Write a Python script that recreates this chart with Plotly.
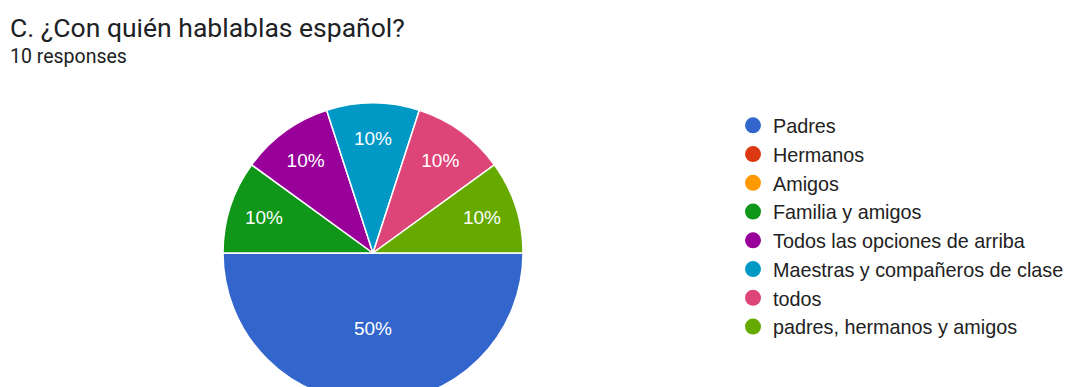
import plotly.graph_objects as go

title_text = "C. ¿Con quién hablablas español?"
subtitle_text = "10 responses"
labels = ["Padres", "Hermanos", "Amigos", "Familia y amigos",
          "Todos las opciones de arriba", "Maestras y compañeros de clase",
          "todos", "padres, hermanos y amigos"]
values = [5, 0, 0, 1, 1, 1, 1, 1]
colors = ["#3366CC", "#DC3912", "#FF9900", "#109618",
          "#990099", "#0099C6", "#DD4477", "#66AA00"]

W, H = 1070, 420

fig = go.Figure()
fig.add_trace(go.Pie(
    labels=labels, values=values, sort=False, direction="clockwise", rotation=90,
    marker=dict(colors=colors, line=dict(color="white", width=1.5)),
    texttemplate="%{percent:.0%}", textposition="inside",
    insidetextorientation="horizontal",
    textfont=dict(family="Liberation Sans, Arial", size=19, color="white"),
    domain=dict(x=[223 / W, 523 / W], y=[1 - 403 / H, 1 - 103 / H]),
    showlegend=False, hoverinfo="label+percent",
))

for lab, col in zip(labels, colors):
    fig.add_trace(go.Scatter(
        x=[None], y=[None], mode="markers", name=lab, legendgroup=lab,
        marker=dict(color=col, size=20, symbol="circle"),
        showlegend=True,
    ))

fig.update_layout(
    width=W, height=H,
    margin=dict(l=0, r=0, t=0, b=0),
    paper_bgcolor="white", plot_bgcolor="white",
    xaxis=dict(visible=False), yaxis=dict(visible=False),
    showlegend=True,
    legend=dict(x=733 / W, y=1 - 106 / H, xanchor="left", yanchor="top",
                font=dict(family="Liberation Sans, Arial", size=19.8, color="#222222"),
                tracegroupgap=0, bgcolor="rgba(0,0,0,0)"),
    annotations=[
        dict(text=title_text, x=8 / W, y=1 - 28 / H, xref="paper", yref="paper",
             xanchor="left", yanchor="middle", showarrow=False,
             font=dict(family="Roboto", size=26.5, color="#202124")),
        dict(text=subtitle_text, x=8 / W, y=1 - 57 / H, xref="paper", yref="paper",
             xanchor="left", yanchor="middle", showarrow=False,
             font=dict(family="Roboto", size=19.5, color="#202124")),
    ],
)

fig.write_html("out.html", post_script="document.body.style.overflow='hidden';document.documentElement.style.overflow='hidden';")
